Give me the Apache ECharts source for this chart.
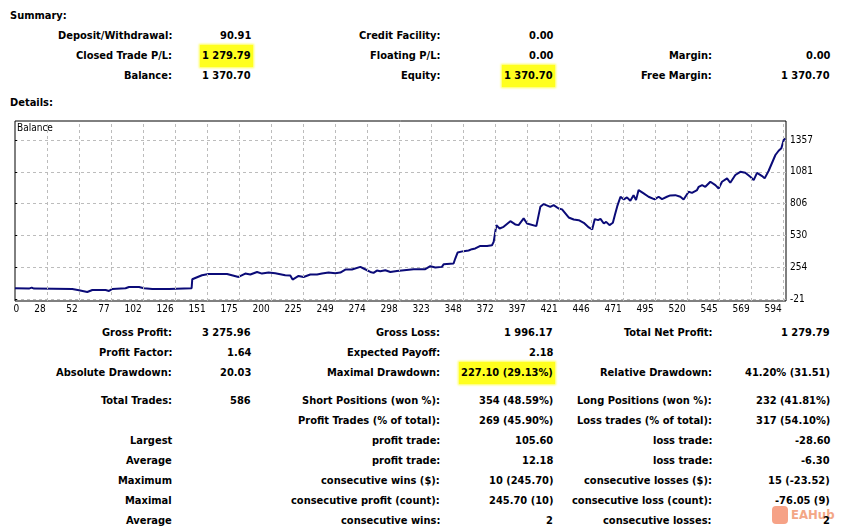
<!DOCTYPE html>
<html>
<head>
<meta charset="utf-8">
<script src="https://cdn.jsdelivr.net/npm/echarts@6/dist/echarts.min.js"></script>
<style>
  body { margin: 0; width: 842px; height: 532px; overflow: hidden; position: relative; background: #fff;
         font: bold 11px Tahoma, "DejaVu Sans Condensed", "DejaVu Sans", sans-serif; color: #000; }
  .t { position: absolute; white-space: nowrap; line-height: 14px; }
  .hl { background: #ffff1e; box-shadow: 0 0 2px 1px #ffff50; padding: 4px 2px; }
  #chart { position: absolute; left: 0; top: 110px; width: 842px; height: 210px; }
  #wm { position: absolute; left: 772px; top: 506px; opacity: 0.75; color: #f08a5d; font: bold 13px "DejaVu Sans Condensed", sans-serif; }
  #wm span.ic { display: inline-block; width: 16px; height: 18px; background: #f4845f; border-radius: 4px; vertical-align: middle; margin-right: 3px; }
</style>
</head>
<body>
<div id="chart"></div>
<div id="wm"><span class="ic"></span>EAHub</div>
<script>
// --- Balance curve ---
const tradeNo = [
  0, 10.8, 12.9, 14.7, 44.3, 49.5, 55.9, 59.8, 70.1, 72.7,
  75.3, 85.5, 88.2, 95.9, 99.8, 106.2, 119.1, 120.3, 136.6, 137.1,
  139.4, 144.6, 149.7, 164.0, 172.9, 178.1, 182.0, 187.2, 191.0, 196.1,
  201.3, 209.0, 212.9, 214.7, 219.3, 223.2, 228.4, 233.6, 237.4, 242.5,
  247.7, 251.6, 255.5, 260.6, 267.1, 269.6, 274.8, 277.3, 279.9, 282.5,
  286.4, 290.3, 295.4, 308.3, 317.3, 321.2, 325.1, 330.2, 331.5, 339.2,
  340.5, 342.3, 346.9, 350.8, 353.4, 356.0, 359.9, 361.2, 365.1, 368.9,
  370.2, 372.3, 374.8, 377.9, 383.1, 386.9, 389.5, 393.4, 396.0, 403.2,
  406.3, 408.9, 414.0, 416.6, 420.4, 423.1, 428.2, 432.1, 436.0, 439.9,
  443.8, 446.4, 448.4, 451.0, 452.8, 455.4, 457.2, 459.8, 462.4, 463.9,
  465.8, 468.3, 470.9, 473.3, 475.9, 478.4, 480.3, 482.3, 486.2, 490.0,
  494.7, 497.8, 500.4, 504.2, 506.8, 510.7, 514.6, 517.1, 521.0, 523.6,
  527.5, 528.8, 531.4, 533.9, 537.8, 541.7, 544.2, 546.8, 550.7, 553.2,
  557.1, 561.0, 564.8, 568.7, 571.3, 573.9, 577.8, 579.8, 582.9, 584.2,
  588.1, 590.6, 592.7, 594.5, 595.6
];
const balance = [
  75, 72, 81, 72, 69, 58, 43, 60, 60, 52,
  69, 75, 86, 86, 75, 69, 69, 75, 75, 153,
  164, 188, 199, 199, 173, 202, 194, 216, 202, 211,
  205, 188, 185, 150, 182, 173, 194, 194, 202, 211,
  205, 211, 237, 237, 260, 246, 216, 208, 228, 222,
  231, 216, 225, 240, 240, 266, 254, 260, 283, 289,
  332, 384, 396, 402, 413, 419, 441, 433, 441, 447,
  476, 621, 592, 606, 655, 627, 621, 679, 635, 612,
  779, 803, 779, 794, 765, 757, 687, 670, 664, 641,
  601, 583, 673, 664, 675, 635, 649, 621, 641, 707,
  785, 866, 843, 861, 831, 880, 837, 924, 895, 866,
  843, 866, 846, 866, 878, 880, 866, 843, 909, 900,
  924, 952, 967, 952, 996, 967, 938, 996, 1025, 987,
  1054, 1082, 1073, 1039, 1010, 1073, 1045, 1025, 1091, 1082,
  1227, 1264, 1285, 1357, 1370.7
];

// axis ticks
const xStep = 24.75;
const xTickLabels = ['0', '28', '52', '77', '102', '126', '151', '175', '200', '225', '249', '274', '298',
  '323', '348', '372', '397', '421', '446', '471', '495', '520', '545', '569', '594'];
const yTickValues = [-21, 254.6, 530.2, 805.8, 1081.4, 1357];
const yTickLabels = ['-21', '254', '530', '806', '1081', '1357'];

// --- Report text ---
const summaryRows = [
  { y: 36, cells: [['Deposit/Withdrawal:', 172], ['90.91', 251], ['Credit Facility:', 440], ['0.00', 553]] },
  { y: 56, cells: [['Closed Trade P/L:', 172], ['1 279.79', 251, true], ['Floating P/L:', 440], ['0.00', 553], ['Margin:', 712], ['0.00', 830]] },
  { y: 76, cells: [['Balance:', 172], ['1 370.70', 251], ['Equity:', 440], ['1 370.70', 553, true], ['Free Margin:', 712], ['1 370.70', 830]] },
];
const detailRows = [
  { y: 333, cells: [['Gross Profit:', 172], ['3 275.96', 251], ['Gross Loss:', 440], ['1 996.17', 553], ['Total Net Profit:', 712], ['1 279.79', 830]] },
  { y: 353, cells: [['Profit Factor:', 172], ['1.64', 251], ['Expected Payoff:', 440], ['2.18', 553]] },
  { y: 373, cells: [['Absolute Drawdown:', 172], ['20.03', 251], ['Maximal Drawdown:', 440], ['227.10 (29.13%)', 553, true], ['Relative Drawdown:', 712], ['41.20% (31.51)', 830]] },
  { y: 401, cells: [['Total Trades:', 172], ['586', 251], ['Short Positions (won %):', 440], ['354 (48.59%)', 553], ['Long Positions (won %):', 712], ['232 (41.81%)', 830]] },
  { y: 421, cells: [['Profit Trades (% of total):', 440], ['269 (45.90%)', 553], ['Loss trades (% of total):', 712], ['317 (54.10%)', 830]] },
  { y: 441, cells: [['Largest', 172], ['profit trade:', 440], ['105.60', 553], ['loss trade:', 712], ['-28.60', 830]] },
  { y: 461, cells: [['Average', 172], ['profit trade:', 440], ['12.18', 553], ['loss trade:', 712], ['-6.30', 830]] },
  { y: 481, cells: [['Maximum', 172], ['consecutive wins ($):', 440], ['10 (245.70)', 553], ['consecutive losses ($):', 712], ['15 (-23.52)', 830]] },
  { y: 501, cells: [['Maximal', 172], ['consecutive profit (count):', 440], ['245.70 (10)', 553], ['consecutive loss (count):', 712], ['-76.05 (9)', 830]] },
  { y: 521, cells: [['Average', 172], ['consecutive wins:', 440], ['2', 553], ['consecutive losses:', 712], ['2', 830]] },
];

function addText(text, x, y, right, highlight) {
  const el = document.createElement('div');
  el.className = 't' + (highlight ? ' hl' : '');
  el.textContent = text;
  document.body.appendChild(el);
  const w = el.offsetWidth, h = el.offsetHeight;
  const pad = highlight ? 2 : 0;
  el.style.left = (right ? x + pad - w : x) + 'px';
  el.style.top = (y - h / 2) + 'px';
}

addText('Summary:', 10, 16, false);
addText('Details:', 10, 103, false);
[...summaryRows, ...detailRows].forEach(row => {
  row.cells.forEach(c => addText(c[0], c[1], row.y, true, c[2]));
});

// --- Chart ---
const FONT = 'Tahoma, "DejaVu Sans Condensed", "DejaVu Sans", sans-serif';
const xGridPos = xTickLabels.map((_, k) => k * xStep);
const xLabelPos = xTickLabels.map((_, k) => k === 0 ? 3.3 : k * xStep - 1);
const dashed = { color: '#bcbcbc', type: [3, 3], width: 1 };

const chart = echarts.init(document.getElementById('chart'), null, { renderer: 'canvas' });
chart.setOption({
  animation: false,
  title: {
    text: 'Balance', left: 17, top: 13, padding: 0,
    textStyle: { fontSize: 10, fontWeight: 'normal', color: '#000', fontFamily: FONT },
  },
  grid: { left: 15, top: 11, width: 771, height: 180, show: true, borderColor: '#000', borderWidth: 1, backgroundColor: 'transparent' },
  xAxis: {
    type: 'value', min: 0, max: 596.3,
    axisLine: { show: false },
    axisTick: { show: false, customValues: xGridPos },
    splitLine: { show: false },
    axisLabel: {
      customValues: xLabelPos, align: 'right', margin: 3,
      fontSize: 10, color: '#000', fontFamily: FONT,
      formatter: v => xTickLabels[Math.round(v / xStep)],
    },
  },
  yAxis: {
    type: 'value', position: 'right', min: -35, max: 1521,
    axisLine: { show: false },
    axisTick: { show: true, customValues: yTickValues, length: 2, lineStyle: { color: '#000' } },
    splitLine: { show: true, lineStyle: dashed },
    axisLabel: {
      customValues: yTickValues, margin: 4,
      fontSize: 10, color: '#000', fontFamily: FONT,
      formatter: v => {
        let best = 0;
        yTickValues.forEach((t, i) => { if (Math.abs(t - v) < Math.abs(yTickValues[best] - v)) best = i; });
        return yTickLabels[best];
      },
    },
  },
  series: [
    {
      // vertical grid lines
      type: 'line', data: [], z: 1, silent: true,
      markLine: {
        silent: true, symbol: ['none', 'none'], label: { show: false },
        lineStyle: dashed, emphasis: { disabled: true },
        data: xGridPos.slice(1).map(v => ({ xAxis: v })),
      },
    },
    {
      name: 'Balance',
      type: 'line',
      z: 3,
      data: tradeNo.map((t, i) => [t, balance[i]]),
      showSymbol: false,
      silent: true,
      lineStyle: { color: '#0b0b78', width: 2 },
    },
  ],
});
</script>
</body>
</html>
